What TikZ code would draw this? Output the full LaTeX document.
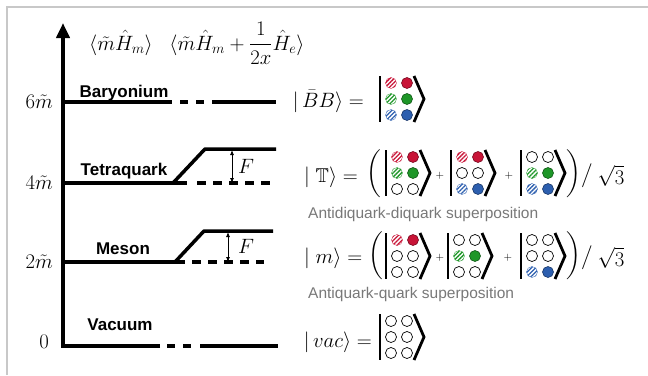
\documentclass[tikz,border=0pt]{standalone}
\usepackage{amsmath,amssymb}
\usepackage{fontspec}
\newfontfamily\labelfont{Liberation Sans}
\usetikzlibrary{arrows.meta,patterns.meta}

\definecolor{qred}{RGB}{200,20,55}
\definecolor{qgreen}{RGB}{30,150,40}
\definecolor{qblue}{RGB}{45,95,175}
\definecolor{framegray}{RGB}{200,200,200}
\definecolor{notegray}{RGB}{120,120,120}

\def\emptyrow{o}
\newcommand{\quarkket}[3]{% name, centre, rows
  \begin{scope}[shift={#2}]
    \draw[ketline] (-19,-23) -- (-19,23);
    \draw[ketline, line join=miter] (15,-23) -- (25,0) -- (15,23);
    \foreach \col [count=\row] in {#3} {
      \ifx\col\emptyrow
        \node[emptyq] (#1-\row a) at (-8,{(\row-2)*16}) {};
        \node[emptyq] (#1-\row q) at (8,{(\row-2)*16}) {};
      \else
        \node[antiq=\col] (#1-\row a) at (-8,{(\row-2)*16}) {};
        \node[quark=\col] (#1-\row q) at (8,{(\row-2)*16}) {};
      \fi
    }
  \end{scope}}

\begin{document}
\begin{tikzpicture}[
  x = 1pt, y = -1pt,
  energy/.style = {line width = 4pt},
  shifted/.style = {line width = 3.5pt, line join = round},
  dashlevel/.style = {line width = 4pt, dash pattern = on 9pt off 7pt},
  gaplevel/.style = {line width = 4pt, dash pattern = on 8pt off 8pt},
  farrow/.style = {{Latex[length=5pt,width=4pt]}-{Latex[length=5pt,width=4pt]}, line width = 0.8pt},
  levelname/.style = {font = \labelfont\bfseries\fontsize{17}{20}\selectfont, anchor = base, inner sep = 0pt},
  mathtext/.style = {font = \fontsize{20}{24}\selectfont, inner sep = 0pt},
  axistext/.style = {font = \fontsize{20}{24}\selectfont, inner sep = 0pt, anchor = base east},
  note/.style = {font = \labelfont\fontsize{15.5}{18}\selectfont, text = notegray, anchor = base west, inner sep = 0pt},
  plus/.style = {font = \fontsize{11}{13}\selectfont, inner sep = 0pt},
  ketline/.style = {line width = 2.8pt},
  emptyq/.style = {circle, draw, line width = 0.7pt, minimum size = 11pt, inner sep = 0pt},
  antiq/.style = {circle, minimum size = 11pt, inner sep = 0pt, draw = #1, line width = 0.3pt,
    pattern = {Lines[angle=45, distance=3pt, line width=1.3pt]}, pattern color = #1},
  quark/.style = {circle, minimum size = 11pt, inner sep = 0pt, fill = #1, draw = #1!60!black, line width = 0.6pt}
]
  \useasboundingbox (0,0) rectangle (648,375);
  \draw[framegray, line width = 1.5pt] (7,375) -- (7,7) -- (648,7);

  % axis
  \coordinate (vac-end) at (160,346);
  \coordinate (axis-top) at (63,23);
  \draw[energy, -{Triangle[width=13pt,length=15pt]}] (vac-end) -| (axis-top);
  \node[axistext] (l6) at (53,108) {$6\tilde{m}$};
  \node[axistext] (l4) at (53,189) {$4\tilde{m}$};
  \node[axistext] (l2) at (53,268) {$2\tilde{m}$};
  \node[axistext] (l0) at (49,348) {$0$};

  % headers
  \node[mathtext, anchor = base] (hm) at (121,50) {$\langle\tilde{m}\hat{H}_m\rangle$};
  \node[mathtext, anchor = base] (he) at (237,50) {$\langle\tilde{m}\hat{H}_m+\dfrac{1}{2x}\hat{H}_e\rangle$};

  % levels
  \draw[energy] (63,102) -- (172,102);
  \draw[gaplevel] (180,102) -- (204,102);
  \draw[energy] (212,102) -- (276,102);
  \node[levelname] (bary) at (124,97) {Baryonium};

  \draw[energy] (63,183) -- (187,183);
  \draw[dashlevel] (197,183) -- (272,183);
  \draw[shifted] (173,183) -- (205,149) -- (276,149);
  \node[levelname] (tetra) at (124,175) {Tetraquark};

  \draw[energy] (63,262) -- (185,262);
  \draw[dashlevel] (192,262) -- (264,262);
  \draw[shifted] (175,262) -- (204,231) -- (273,231);
  \node[levelname] (meson) at (123,254) {Meson};

  \draw[gaplevel] (167,346) -- (191,346);
  \draw[energy] (200,346) -- (278,346);
  \node[levelname] (vacuum) at (120,330) {Vacuum};

  % F
  \coordinate (ft-up) at (232,150);
  \coordinate (ft-dn) at (232,183);
  \coordinate (fm-up) at (228,232);
  \coordinate (fm-dn) at (228,262);
  \draw[farrow] (ft-up) -- (ft-dn);
  \draw[farrow] (fm-up) -- (fm-dn);
  \node[mathtext, anchor = base] (ft) at (246,173) {$F$};
  \node[mathtext, anchor = base] (fm) at (246,253) {$F$};

  % states
  \node[mathtext, anchor = base east] (bbtext) at (364,107) {$\lvert\,\bar{B}B\rangle=$};
  \quarkket{bb}{(399,99)}{qred,qgreen,qblue}

  \node[mathtext, anchor = base west] (ttext) at (304,182) {$\lvert\;\mathbb{T}\rangle=$};
  \node[mathtext] (topen) at (374,174) {$\bigg($};
  \quarkket{t1}{(405,173)}{qred,qgreen,o}
  \node[plus] (tp1) at (440,176) {$+$};
  \quarkket{t2}{(470,173)}{qred,o,qblue}
  \node[plus] (tp2) at (509,176) {$+$};
  \quarkket{t3}{(540,173)}{o,qgreen,qblue}
  \node[mathtext] (tclose) at (574,174) {$\bigg)$};
  \node[mathtext] (tslash) at (587,176) {$\big/$};
  \node[mathtext] (troot) at (611,176) {$\sqrt{3}$};
  \node[note] (tnote) at (308,218) {Antidiquark-diquark superposition};

  \node[mathtext, anchor = base west] (mtext) at (304,263) {$\lvert\;m\rangle=$};
  \node[mathtext] (mopen) at (376,256) {$\bigg($};
  \quarkket{m1}{(405,256)}{qred,o,o}
  \node[plus] (mp1) at (440,258) {$+$};
  \quarkket{m2}{(467,256)}{o,qgreen,o}
  \node[plus] (mp2) at (508,258) {$+$};
  \quarkket{m3}{(540,256)}{o,o,qblue}
  \node[mathtext] (mclose) at (574,256) {$\bigg)$};
  \node[mathtext] (mslash) at (587,258) {$\big/$};
  \node[mathtext] (mroot) at (611,258) {$\sqrt{3}$};
  \node[note] (mnote) at (308,298) {Antiquark-quark superposition};

  \node[mathtext, anchor = base east] (vactext) at (372,347) {$\lvert\,vac\rangle=$};
  \quarkket{vac}{(399,337)}{o,o,o}
\end{tikzpicture}
\end{document}
